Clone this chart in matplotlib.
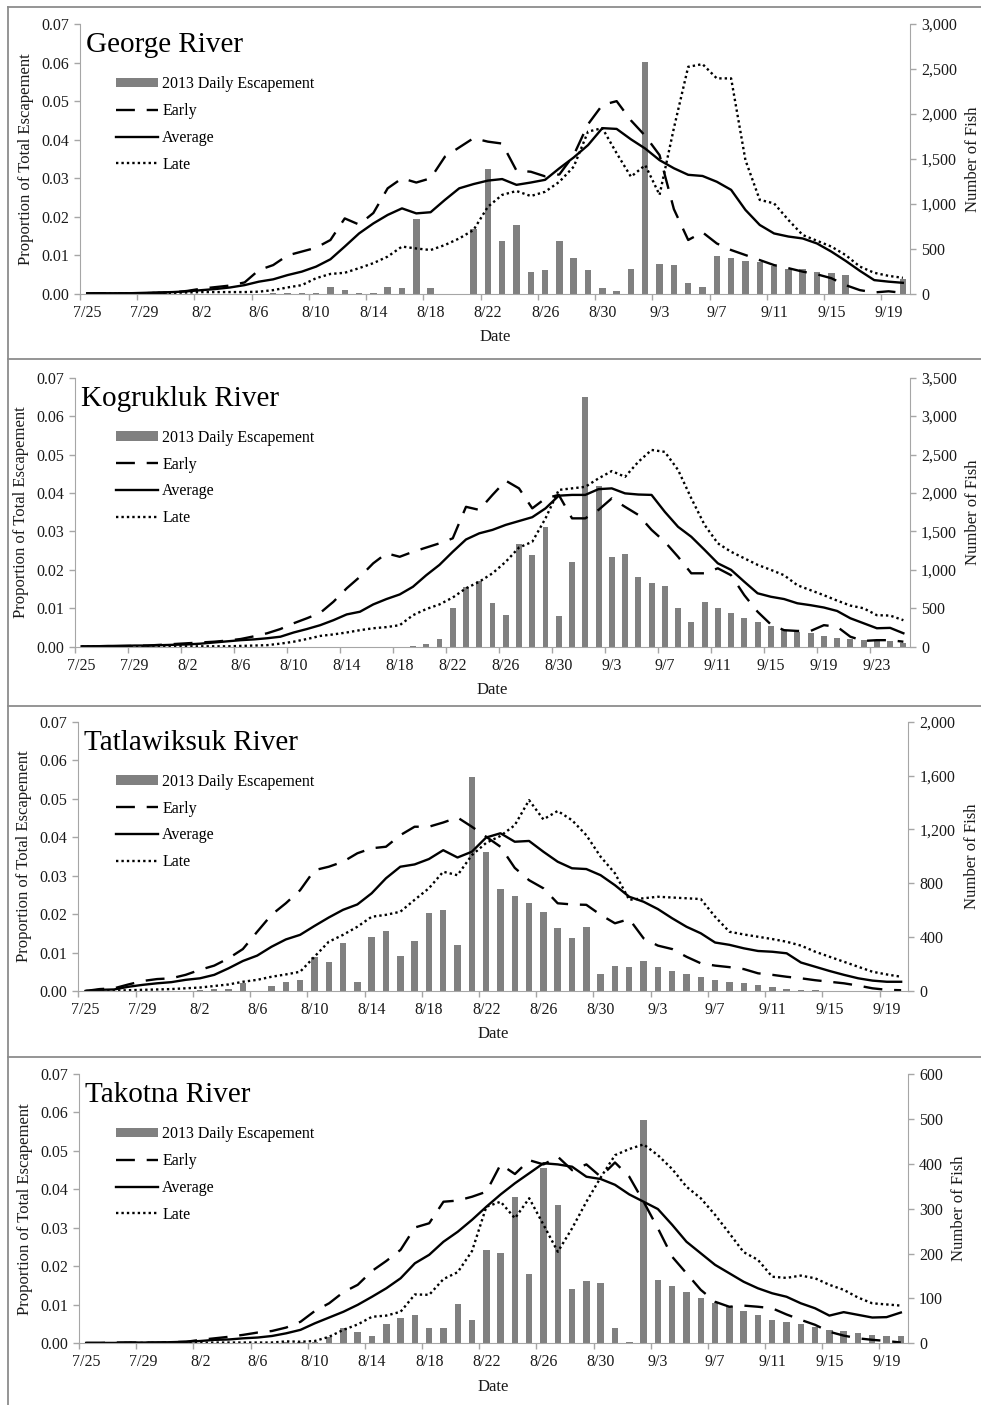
import matplotlib
matplotlib.use("Agg")

import matplotlib.pyplot as plt
from matplotlib.lines import Line2D
from matplotlib.patches import Patch
from matplotlib.ticker import FuncFormatter
import numpy as np
import pandas as pd

plt.rcParams['font.family'] = ['Liberation Serif', 'DejaVu Serif']

W, H = 981, 1405
START = '2013-07-25'

# George River (7/25 - 9/20)
george_fish = [0, 0, 0, 0, 0, 0, 0, 0, 0, 0,
               3, 5, 5, 8, 8, 6, 8, 74, 44, 10,
               10, 81, 63, 833, 63, 0, 0, 722, 1389, 589,
               767, 248, 267, 585, 396, 267, 63, 37, 274, 2581,
               333, 319, 126, 81, 422, 396, 367, 352, 315, 281,
               274, 248, 230, 215, 0, 0, 0, 163]
george_early = [0.0000, 0.0002, 0.0002, 0.0001, 0.0002, 0.0003, 0.0004, 0.0008, 0.0014, 0.0018,
                0.0022, 0.0030, 0.0062, 0.0075, 0.0100, 0.0110, 0.0120, 0.0140, 0.0196, 0.0180,
                0.0210, 0.0274, 0.0300, 0.0289, 0.0300, 0.0356, 0.0380, 0.0404, 0.0395, 0.0390,
                0.0320, 0.0317, 0.0305, 0.0310, 0.0360, 0.0440, 0.0490, 0.0500, 0.0450, 0.0410,
                0.0360, 0.0220, 0.0140, 0.0160, 0.0131, 0.0114, 0.0101, 0.0088, 0.0075, 0.0067,
                0.0058, 0.0051, 0.0041, 0.0023, 0.0010, 0.0004, 0.0007, 0.0003]
george_avg = [0.0002, 0.0002, 0.0002, 0.0002, 0.0003, 0.0004, 0.0005, 0.0007, 0.0010, 0.0013,
              0.0017, 0.0023, 0.0032, 0.0038, 0.0049, 0.0058, 0.0071, 0.0090, 0.0123, 0.0157,
              0.0183, 0.0205, 0.0222, 0.0209, 0.0212, 0.0244, 0.0274, 0.0285, 0.0294, 0.0298,
              0.0283, 0.0289, 0.0296, 0.0326, 0.0354, 0.0386, 0.0430, 0.0428, 0.0401, 0.0377,
              0.0347, 0.0326, 0.0309, 0.0306, 0.0291, 0.0270, 0.0218, 0.0179, 0.0157, 0.0149,
              0.0144, 0.0131, 0.0110, 0.0086, 0.0060, 0.0036, 0.0032, 0.0029]
george_late = [0.0000, 0.0001, 0.0001, 0.0002, 0.0002, 0.0003, 0.0003, 0.0004, 0.0005, 0.0005,
               0.0005, 0.0005, 0.0006, 0.0010, 0.0017, 0.0023, 0.0041, 0.0052, 0.0055, 0.0067,
               0.0080, 0.0097, 0.0123, 0.0118, 0.0114, 0.0127, 0.0144, 0.0166, 0.0226, 0.0257,
               0.0267, 0.0254, 0.0265, 0.0291, 0.0330, 0.0421, 0.0430, 0.0365, 0.0304, 0.0334,
               0.0257, 0.0430, 0.0589, 0.0596, 0.0559, 0.0559, 0.0347, 0.0244, 0.0235, 0.0192,
               0.0153, 0.0138, 0.0123, 0.0101, 0.0071, 0.0055, 0.0047, 0.0042]

# Kogrukluk River (7/25 - 9/25)
kog_fish = [0, 0, 0, 0, 0, 0, 0, 0, 0, 0,
            0, 0, 0, 0, 0, 0, 0, 0, 0, 0,
            0, 0, 0, 0, 0, 13, 30, 95, 507, 772,
            859, 564, 412, 1331, 1192, 1552, 399, 1106, 3252, 2090,
            1171, 1205, 911, 824, 789, 499, 317, 585, 507, 434,
            369, 317, 269, 217, 195, 173, 139, 117, 100, 87,
            78, 74, 43]
kog_early = [0.0000, 0.0001, 0.0001, 0.0002, 0.0002, 0.0003, 0.0005, 0.0007, 0.0009, 0.0011,
             0.0013, 0.0016, 0.0020, 0.0027, 0.0035, 0.0046, 0.0061, 0.0074, 0.0088, 0.0117,
             0.0152, 0.0182, 0.0217, 0.0243, 0.0234, 0.0247, 0.0258, 0.0269, 0.0282, 0.0364,
             0.0356, 0.0395, 0.0432, 0.0412, 0.0360, 0.0386, 0.0395, 0.0334, 0.0334, 0.0356,
             0.0386, 0.0364, 0.0343, 0.0304, 0.0273, 0.0234, 0.0191, 0.0191, 0.0204, 0.0186,
             0.0134, 0.0091, 0.0058, 0.0043, 0.0041, 0.0041, 0.0056, 0.0052, 0.0026, 0.0015,
             0.0017, 0.0017, 0.0013]
kog_avg = [0.0001, 0.0001, 0.0002, 0.0002, 0.0003, 0.0003, 0.0004, 0.0005, 0.0006, 0.0008,
           0.0011, 0.0014, 0.0017, 0.0019, 0.0022, 0.0026, 0.0037, 0.0046, 0.0056, 0.0069,
           0.0084, 0.0091, 0.0110, 0.0124, 0.0136, 0.0156, 0.0186, 0.0213, 0.0247, 0.0279,
           0.0295, 0.0304, 0.0317, 0.0327, 0.0337, 0.0360, 0.0393, 0.0395, 0.0395, 0.0410,
           0.0412, 0.0399, 0.0396, 0.0395, 0.0351, 0.0312, 0.0286, 0.0252, 0.0217, 0.0200,
           0.0169, 0.0139, 0.0130, 0.0124, 0.0113, 0.0108, 0.0102, 0.0093, 0.0074, 0.0061,
           0.0048, 0.0049, 0.0035]
kog_late = [0.0000, 0.0001, 0.0001, 0.0001, 0.0001, 0.0001, 0.0001, 0.0001, 0.0001, 0.0001,
            0.0001, 0.0001, 0.0002, 0.0003, 0.0004, 0.0008, 0.0013, 0.0020, 0.0028, 0.0032,
            0.0037, 0.0043, 0.0048, 0.0051, 0.0056, 0.0082, 0.0098, 0.0110, 0.0128, 0.0152,
            0.0169, 0.0191, 0.0221, 0.0258, 0.0273, 0.0334, 0.0408, 0.0412, 0.0416, 0.0438,
            0.0457, 0.0442, 0.0481, 0.0512, 0.0507, 0.0460, 0.0386, 0.0317, 0.0269, 0.0247,
            0.0230, 0.0213, 0.0200, 0.0186, 0.0160, 0.0147, 0.0134, 0.0120, 0.0107, 0.0100,
            0.0082, 0.0081, 0.0069]

# Tatlawiksuk River (7/25 - 9/20)
tat_fish = [0, 0, 0, 0, 0, 0, 0, 0, 7, 15,
            15, 57, 2, 40, 69, 82, 255, 213, 354, 64,
            403, 446, 262, 371, 577, 601, 342, 1592, 1035, 756,
            708, 651, 589, 470, 394, 478, 124, 186, 181, 223,
            176, 151, 124, 101, 84, 69, 57, 45, 32, 12,
            7, 5, 3, 3, 2, 2, 2, 2]
tat_early = [0.0000, 0.0005, 0.0007, 0.0017, 0.0026, 0.0031, 0.0033, 0.0042, 0.0055, 0.0066,
             0.0085, 0.0109, 0.0154, 0.0198, 0.0228, 0.0262, 0.0314, 0.0323, 0.0336, 0.0358,
             0.0371, 0.0375, 0.0405, 0.0427, 0.0427, 0.0438, 0.0451, 0.0427, 0.0401, 0.0375,
             0.0320, 0.0288, 0.0267, 0.0228, 0.0225, 0.0224, 0.0198, 0.0176, 0.0187, 0.0137,
             0.0118, 0.0109, 0.0089, 0.0072, 0.0066, 0.0062, 0.0057, 0.0046, 0.0042, 0.0037,
             0.0033, 0.0028, 0.0024, 0.0020, 0.0014, 0.0007, 0.0003, 0.0002]
tat_avg = [0.0000, 0.0003, 0.0004, 0.0011, 0.0016, 0.0020, 0.0023, 0.0029, 0.0033, 0.0042,
           0.0059, 0.0078, 0.0092, 0.0115, 0.0134, 0.0146, 0.0169, 0.0191, 0.0211, 0.0225,
           0.0254, 0.0293, 0.0323, 0.0329, 0.0343, 0.0366, 0.0347, 0.0362, 0.0399, 0.0410,
           0.0388, 0.0390, 0.0362, 0.0336, 0.0319, 0.0317, 0.0301, 0.0275, 0.0245, 0.0232,
           0.0213, 0.0189, 0.0167, 0.0150, 0.0126, 0.0120, 0.0111, 0.0104, 0.0102, 0.0098,
           0.0074, 0.0063, 0.0052, 0.0042, 0.0033, 0.0027, 0.0024, 0.0024]
tat_late = [0.0000, 0.0001, 0.0001, 0.0002, 0.0003, 0.0004, 0.0005, 0.0007, 0.0009, 0.0013,
            0.0017, 0.0024, 0.0029, 0.0037, 0.0043, 0.0050, 0.0089, 0.0128, 0.0146, 0.0167,
            0.0193, 0.0198, 0.0206, 0.0237, 0.0267, 0.0310, 0.0301, 0.0353, 0.0385, 0.0403,
            0.0431, 0.0496, 0.0446, 0.0468, 0.0444, 0.0405, 0.0349, 0.0306, 0.0237, 0.0241,
            0.0245, 0.0243, 0.0241, 0.0239, 0.0193, 0.0154, 0.0147, 0.0141, 0.0135, 0.0128,
            0.0118, 0.0102, 0.0089, 0.0076, 0.0063, 0.0050, 0.0043, 0.0037]

# Takotna River (7/25 - 9/20)
tak_fish = [0, 0, 0, 0, 0, 0, 0, 0, 0, 0,
            0, 0, 0, 0, 2, 4, 2, 13, 35, 25,
            16, 42, 57, 63, 35, 35, 88, 53, 208, 202,
            327, 154, 390, 308, 120, 139, 135, 33, 2, 497,
            140, 128, 114, 100, 89, 82, 71, 62, 53, 48,
            42, 37, 30, 27, 24, 19, 17, 16]
tak_early = [0.0001, 0.0001, 0.0002, 0.0002, 0.0002, 0.0002, 0.0003, 0.0004, 0.0009, 0.0013,
             0.0017, 0.0022, 0.0028, 0.0032, 0.0041, 0.0056, 0.0084, 0.0104, 0.0133, 0.0152,
             0.0188, 0.0214, 0.0243, 0.0301, 0.0312, 0.0368, 0.0371, 0.0381, 0.0394, 0.0465,
             0.0440, 0.0476, 0.0465, 0.0485, 0.0450, 0.0465, 0.0433, 0.0470, 0.0433, 0.0368,
             0.0299, 0.0225, 0.0182, 0.0139, 0.0108, 0.0095, 0.0098, 0.0095, 0.0091, 0.0075,
             0.0061, 0.0048, 0.0030, 0.0020, 0.0013, 0.0009, 0.0006, 0.0002]
tak_avg = [0.0001, 0.0001, 0.0001, 0.0002, 0.0002, 0.0002, 0.0003, 0.0004, 0.0006, 0.0009,
           0.0010, 0.0013, 0.0015, 0.0019, 0.0026, 0.0035, 0.0052, 0.0067, 0.0082, 0.0100,
           0.0121, 0.0143, 0.0169, 0.0208, 0.0230, 0.0264, 0.0290, 0.0321, 0.0355, 0.0387,
           0.0416, 0.0442, 0.0468, 0.0465, 0.0459, 0.0433, 0.0427, 0.0412, 0.0387, 0.0368,
           0.0349, 0.0308, 0.0264, 0.0234, 0.0204, 0.0182, 0.0160, 0.0143, 0.0130, 0.0121,
           0.0104, 0.0091, 0.0072, 0.0081, 0.0074, 0.0067, 0.0068, 0.0080]
tak_late = [0.0000, 0.0000, 0.0000, 0.0001, 0.0001, 0.0001, 0.0001, 0.0001, 0.0001, 0.0002,
            0.0002, 0.0002, 0.0002, 0.0002, 0.0005, 0.0004, 0.0006, 0.0017, 0.0035, 0.0049,
            0.0069, 0.0072, 0.0082, 0.0127, 0.0126, 0.0167, 0.0185, 0.0240, 0.0355, 0.0368,
            0.0325, 0.0377, 0.0308, 0.0238, 0.0299, 0.0368, 0.0431, 0.0489, 0.0505, 0.0517,
            0.0489, 0.0453, 0.0407, 0.0377, 0.0334, 0.0286, 0.0237, 0.0217, 0.0173, 0.0170,
            0.0176, 0.0169, 0.0152, 0.0139, 0.0119, 0.0104, 0.0101, 0.0098]

SPINE = '#a6a6a6'
TEXT = '#1a1a1a'
BAR = '#808080'


def draw_panel(fig, box, title, fish, early, average, late, fish_max, fish_step):
    # box = (left, top, right, bottom) in pixels from the top left corner
    left, top, right, bottom = box
    ax = fig.add_axes([left / W, 1 - bottom / H, (right - left) / W, (bottom - top) / H])
    ax2 = ax.twinx()

    n = len(fish)
    x = np.arange(n)
    dates = pd.date_range(START, periods=n)

    ax2.bar(x, fish, width=0.45, color=BAR, linewidth=0)
    ax.plot(x, early, color='black', lw=1.7, ls=(0, (8, 5)))
    ax.plot(x, average, color='black', lw=1.7)
    ax.plot(x, late, color='black', lw=1.7, ls=(0, (1, 1.3)))

    # keep the lines above the bars
    ax.set_zorder(ax2.get_zorder() + 1)
    ax.patch.set_visible(False)

    ax.set_xlim(-0.5, n - 0.5)
    ax.set_ylim(0, 0.07)
    ax2.set_ylim(0, fish_max)

    lab = np.arange(0, n, 4)
    ax.set_xticks(lab - 0.5)
    ax.set_xticklabels([])
    ax.set_xticks(lab, minor=True)
    ax.set_xticklabels([f'{d.month}/{d.day}' for d in dates[lab]], minor=True)

    ax.set_yticks(np.arange(0, 0.0701, 0.01))
    ax.yaxis.set_major_formatter(FuncFormatter(lambda v, p: f'{v:.2f}'))
    ax2.set_yticks(np.arange(0, fish_max + 1, fish_step))
    ax2.yaxis.set_major_formatter(FuncFormatter(lambda v, p: f'{v:,.0f}'))

    for a in (ax, ax2):
        a.tick_params(which='both', labelsize=11.5, labelcolor=TEXT, color=SPINE, width=1)
        a.tick_params(axis='y', length=4, pad=4)
        for s in a.spines.values():
            s.set_color(SPINE)
    ax.tick_params(axis='x', which='minor', length=0, pad=8)
    ax.tick_params(axis='x', which='major', length=4, color=SPINE)
    ax.spines['top'].set_visible(False)
    ax.spines['right'].set_visible(False)
    ax2.spines['top'].set_visible(False)
    ax2.spines['left'].set_visible(False)
    ax2.spines['bottom'].set_visible(False)

    ax.set_xlabel('Date', fontsize=12, color=TEXT, labelpad=6)
    ax.set_ylabel('Proportion of Total Escapement', fontsize=12, color=TEXT, labelpad=5)
    ax2.set_ylabel('Number of Fish', fontsize=12, color=TEXT, labelpad=6)

    fig.text((left + 6) / W, 1 - (top + 8) / H, title, fontsize=21, color='black',
             ha='left', va='top')

    handles = [Patch(facecolor=BAR, edgecolor='none'),
               Line2D([], [], color='black', lw=1.7, ls=(0, (8, 5))),
               Line2D([], [], color='black', lw=1.7),
               Line2D([], [], color='black', lw=1.7, ls=(0, (1, 1.3)))]
    labels = ['2013 Daily Escapement', 'Early', 'Average', 'Late']
    ax.legend(handles, labels, loc='upper left', bbox_to_anchor=(116 / W, 1 - (top + 52) / H),
              bbox_transform=fig.transFigure, frameon=False, fontsize=11.5,
              handlelength=2.6, handleheight=0.5, handletextpad=0.3, labelspacing=0.68,
              borderpad=0, borderaxespad=0)
    return ax


fig = plt.figure(figsize=(W / 100, H / 100), dpi=100)

draw_panel(fig, (80, 24, 910, 294), 'George River',
           george_fish, george_early, george_avg, george_late, 3000, 500)
draw_panel(fig, (75, 377.7, 910, 646.7), 'Kogrukluk River',
           kog_fish, kog_early, kog_avg, kog_late, 3500, 500)
draw_panel(fig, (78.3, 721.7, 908.3, 991), 'Tatlawiksuk River',
           tat_fish, tat_early, tat_avg, tat_late, 2000, 400)
draw_panel(fig, (79, 1074, 908, 1343.3), 'Takotna River',
           tak_fish, tak_early, tak_avg, tak_late, 600, 100)

# panel frames
for y in (7, 359, 706, 1057):
    fig.add_artist(Line2D([8 / W, 1], [1 - y / H, 1 - y / H], transform=fig.transFigure,
                          color='#8c8c8c', lw=1.3))
fig.add_artist(Line2D([8 / W, 8 / W], [1 - 7 / H, 0], transform=fig.transFigure,
                      color='#8c8c8c', lw=1.3))

fig.savefig('out.png', dpi=100)
